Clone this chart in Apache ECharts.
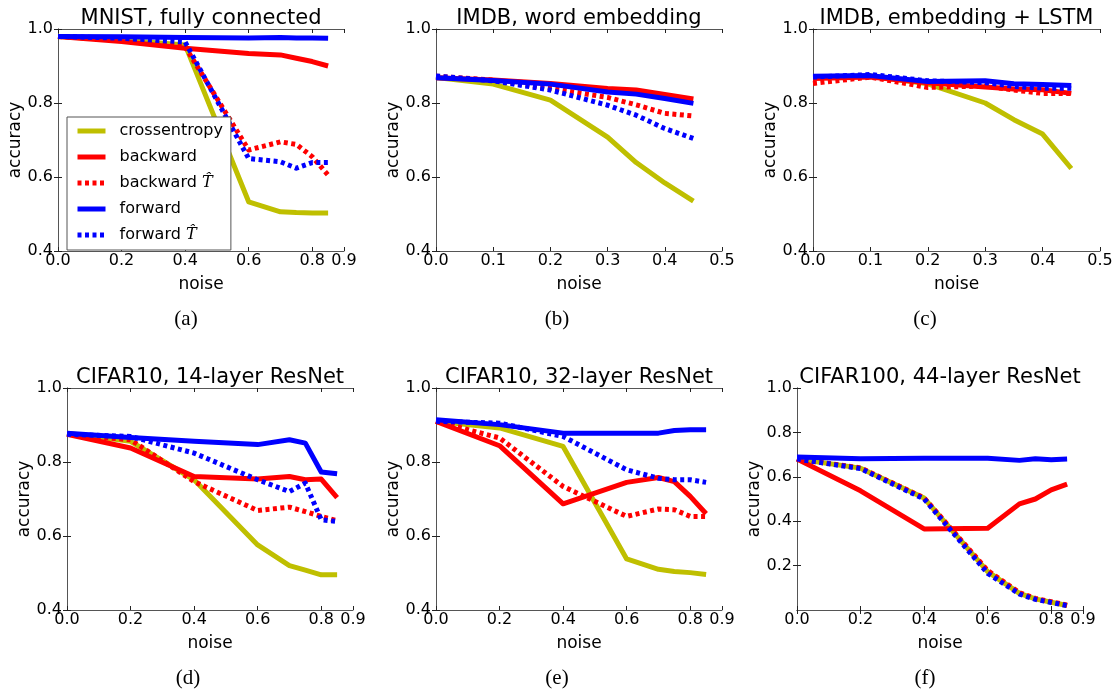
<!DOCTYPE html>
<html>
<head>
<meta charset="utf-8">
<script src="https://cdn.jsdelivr.net/npm/echarts@6/dist/echarts.min.js"></script>
<style>
html,body{margin:0;padding:0;background:#fff;}
#c{width:1115px;height:693px;}
</style>
</head>
<body>
<div id="c"></div>
<script>
// ---- data ----
const seriesNames = ['crossentropy', 'backward', 'backward T\u0302', 'forward', 'forward T\u0302'];
const panelTitles = ['MNIST, fully connected', 'IMDB, word embedding', 'IMDB, embedding + LSTM',
                     'CIFAR10, 14-layer ResNet', 'CIFAR10, 32-layer ResNet', 'CIFAR100, 44-layer ResNet'];
const subCaptions = ['(a)', '(b)', '(c)', '(d)', '(e)', '(f)'];

const noiseLong = [0, 0.2, 0.4, 0.6, 0.7, 0.75, 0.8, 0.85];
const noiseShort = [0, 0.1, 0.2, 0.3, 0.35, 0.4, 0.45];
const xTicksLong = [0, 0.2, 0.4, 0.6, 0.8, 0.9];
const xTicksShort = [0, 0.1, 0.2, 0.3, 0.4, 0.5];

// (a) MNIST
const ceA  = [0.980, 0.970, 0.957, 0.533, 0.506, 0.504, 0.503, 0.503];
const bwA  = [0.980, 0.966, 0.948, 0.934, 0.930, 0.921, 0.912, 0.900];
const bwTA = [0.980, 0.970, 0.952, 0.673, 0.695, 0.688, 0.655, 0.605];
const fwA  = [0.980, 0.979, 0.977, 0.976, 0.977, 0.976, 0.976, 0.975];
const fwTA = [0.980, 0.975, 0.965, 0.650, 0.641, 0.624, 0.639, 0.639];
// (b) IMDB word embedding
const ceB  = [0.869, 0.851, 0.808, 0.708, 0.639, 0.584, 0.535];
const bwB  = [0.868, 0.862, 0.853, 0.839, 0.835, 0.823, 0.811];
const bwTB = [0.872, 0.862, 0.840, 0.815, 0.795, 0.772, 0.765];
const fwB  = [0.868, 0.861, 0.851, 0.830, 0.824, 0.812, 0.799];
const fwTB = [0.873, 0.860, 0.835, 0.794, 0.767, 0.731, 0.704];
// (c) IMDB embedding + LSTM
const ceC  = [0.870, 0.873, 0.852, 0.800, 0.755, 0.716, 0.623];
const bwC  = [0.866, 0.870, 0.855, 0.843, 0.838, 0.836, 0.826];
const bwTC = [0.853, 0.870, 0.842, 0.846, 0.835, 0.826, 0.826];
const fwC  = [0.872, 0.874, 0.858, 0.860, 0.852, 0.850, 0.847];
const fwTC = [0.870, 0.877, 0.860, 0.855, 0.845, 0.840, 0.840];
// (d) CIFAR10 14-layer
const ceD  = [0.878, 0.856, 0.752, 0.576, 0.520, 0.508, 0.495, 0.495];
const bwD  = [0.875, 0.838, 0.761, 0.754, 0.761, 0.752, 0.754, 0.704];
const bwTD = [0.875, 0.860, 0.747, 0.669, 0.678, 0.666, 0.653, 0.641];
const fwD  = [0.878, 0.866, 0.856, 0.847, 0.860, 0.851, 0.773, 0.768];
const fwTD = [0.875, 0.869, 0.824, 0.752, 0.720, 0.743, 0.644, 0.639];
// (e) CIFAR10 32-layer
const ceE  = [0.910, 0.892, 0.842, 0.538, 0.510, 0.504, 0.501, 0.496];
const bwE  = [0.910, 0.844, 0.687, 0.745, 0.758, 0.747, 0.707, 0.660];
const bwTE = [0.910, 0.865, 0.734, 0.653, 0.673, 0.671, 0.653, 0.653];
const fwE  = [0.914, 0.901, 0.878, 0.878, 0.878, 0.885, 0.887, 0.887];
const fwTE = [0.910, 0.905, 0.869, 0.779, 0.756, 0.752, 0.752, 0.745];
// (f) CIFAR100 44-layer
const ceF  = [0.680, 0.639, 0.504, 0.173, 0.075, 0.050, 0.035, 0.020];
const bwF  = [0.680, 0.537, 0.365, 0.368, 0.478, 0.500, 0.541, 0.567];
const bwTF = [0.680, 0.640, 0.505, 0.178, 0.078, 0.052, 0.037, 0.022];
const fwF  = [0.689, 0.681, 0.683, 0.684, 0.674, 0.681, 0.677, 0.680];
const fwTF = [0.680, 0.637, 0.500, 0.165, 0.072, 0.048, 0.034, 0.020];

const yTicksMain = [0.4, 0.6, 0.8, 1.0];
const yTicksF = [0.2, 0.4, 0.6, 0.8, 1.0];

// ---- build ----
const panels = [
  {x: noiseLong,  xmax: 0.9, xt: xTicksLong,  ymin: 0.4, yt: yTicksMain, s: [ceA, bwA, bwTA, fwA, fwTA]},
  {x: noiseShort, xmax: 0.5, xt: xTicksShort, ymin: 0.4, yt: yTicksMain, s: [ceB, bwB, bwTB, fwB, fwTB]},
  {x: noiseShort, xmax: 0.5, xt: xTicksShort, ymin: 0.4, yt: yTicksMain, s: [ceC, bwC, bwTC, fwC, fwTC]},
  {x: noiseLong,  xmax: 0.9, xt: xTicksLong,  ymin: 0.4, yt: yTicksMain, s: [ceD, bwD, bwTD, fwD, fwTD]},
  {x: noiseLong,  xmax: 0.9, xt: xTicksLong,  ymin: 0.4, yt: yTicksMain, s: [ceE, bwE, bwTE, fwE, fwTE]},
  {x: noiseLong,  xmax: 0.9, xt: xTicksLong,  ymin: 0.0, yt: yTicksF,    s: [ceF, bwF, bwTF, fwF, fwTF]}
];

const boxes = [
  {left: 58,  top: 29,  width: 286, height: 222, cap: 186},
  {left: 436, top: 29,  width: 286, height: 222, cap: 557},
  {left: 813, top: 29,  width: 287, height: 222, cap: 925},
  {left: 67,  top: 388, width: 286, height: 222, cap: 188},
  {left: 436, top: 388, width: 286, height: 222, cap: 557},
  {left: 797, top: 388, width: 286, height: 222, cap: 925}
];

const colors = ['#bfbf00', '#ff0000', '#ff0000', '#0000ff', '#0000ff'];
const dotted = [false, false, true, false, true];
const FONT = 'DejaVu Sans';
const frameColor = '#555555';

const grid = [], xAxis = [], yAxis = [], series = [], title = [];

panels.forEach((p, i) => {
  const b = boxes[i];
  grid.push({left: b.left, top: b.top, width: b.width, height: b.height, outerBoundsMode: 'none', containLabel: false});
  const tickCommon = {show: true, inside: true, length: 4, lineStyle: {color: '#222', width: 1}};
  const lineCommon = {show: true, lineStyle: {color: frameColor, width: 1}};
  xAxis.push({
    type: 'value', gridIndex: i, position: 'bottom', min: 0, max: p.xmax, interval: 0.1,
    axisLine: lineCommon, splitLine: {show: false},
    axisTick: Object.assign({customValues: p.xt}, tickCommon),
    axisLabel: {customValues: p.xt, margin: 2, color: '#000', fontFamily: FONT, fontSize: 16,
                formatter: v => v.toFixed(1)},
    name: 'noise', nameLocation: 'middle', nameGap: 25,
    nameTextStyle: {color: '#000', fontFamily: FONT, fontSize: 17}
  });
  xAxis.push({
    type: 'value', gridIndex: i, position: 'top', min: 0, max: p.xmax, interval: 0.1,
    axisLine: lineCommon, splitLine: {show: false},
    axisTick: Object.assign({customValues: p.xt}, tickCommon),
    axisLabel: {show: false}
  });
  yAxis.push({
    type: 'value', gridIndex: i, position: 'left', min: p.ymin, max: 1.0, interval: 0.2,
    axisLine: lineCommon, splitLine: {show: false},
    axisTick: Object.assign({customValues: p.yt}, tickCommon),
    axisLabel: {customValues: p.yt, margin: 5, color: '#000', fontFamily: FONT, fontSize: 16,
                formatter: v => v.toFixed(1)},
    name: 'accuracy', nameLocation: 'middle', nameGap: i === 0 ? 30 : 31,
    nameTextStyle: {color: '#000', fontFamily: FONT, fontSize: 17}
  });
  yAxis.push({
    type: 'value', gridIndex: i, position: 'right', min: p.ymin, max: 1.0, interval: 0.2,
    axisLine: lineCommon, splitLine: {show: false},
    axisTick: Object.assign({customValues: p.yt}, tickCommon),
    axisLabel: {show: false}
  });

  p.s.forEach((vals, k) => {
    series.push({
      type: 'line', name: seriesNames[k], xAxisIndex: i * 2, yAxisIndex: i * 2,
      data: p.x.map((xv, j) => [xv, vals[j]]),
      symbol: 'none', showSymbol: false, animation: false, silent: true,
      itemStyle: {color: colors[k]},
      lineStyle: {color: colors[k], width: 5, type: dotted[k] ? [4, 3.5] : 'solid',
                  cap: 'butt', join: 'round'}
    });
  });

  title.push({
    text: panelTitles[i], left: b.left + b.width / 2, top: b.top - 21, textAlign: 'center', padding: 0,
    textStyle: {color: '#000', fontFamily: FONT, fontSize: 21, fontWeight: 'normal'}
  });
  title.push({
    text: subCaptions[i], left: b.cap, top: b.top + 280, textAlign: 'center', padding: 0,
    textStyle: {color: '#000', fontFamily: 'Liberation Serif', fontSize: 21, fontWeight: 'normal'}
  });
});

const option = {
  backgroundColor: '#fff',
  animation: false,
  title: title,
  grid: grid,
  xAxis: xAxis,
  yAxis: yAxis,
  legend: {
    show: true,
    data: seriesNames,
    orient: 'vertical',
    left: 67, top: 117,
    padding: [6, 8, 7, 8],
    itemGap: 10,
    itemWidth: 28, itemHeight: 14,
    borderColor: frameColor, borderWidth: 1, borderRadius: 0,
    backgroundColor: '#fff',
    selectedMode: false,
    itemStyle: {opacity: 0},
    lineStyle: {width: 5},
    textStyle: {color: '#000', fontFamily: FONT, fontSize: 16, padding: [0, 0, 0, 9],
                rich: {t: {fontFamily: 'DejaVu Serif', fontStyle: 'italic', fontSize: 16, color: '#000'}}},
    formatter: name => name.endsWith('T\u0302') ? name.slice(0, -2) + '{t|T\u0302}' : name
  },
  series: series
};

const chart = echarts.init(document.getElementById('c'), null, {renderer: 'canvas'});
chart.setOption(option);
</script>
</body>
</html>
